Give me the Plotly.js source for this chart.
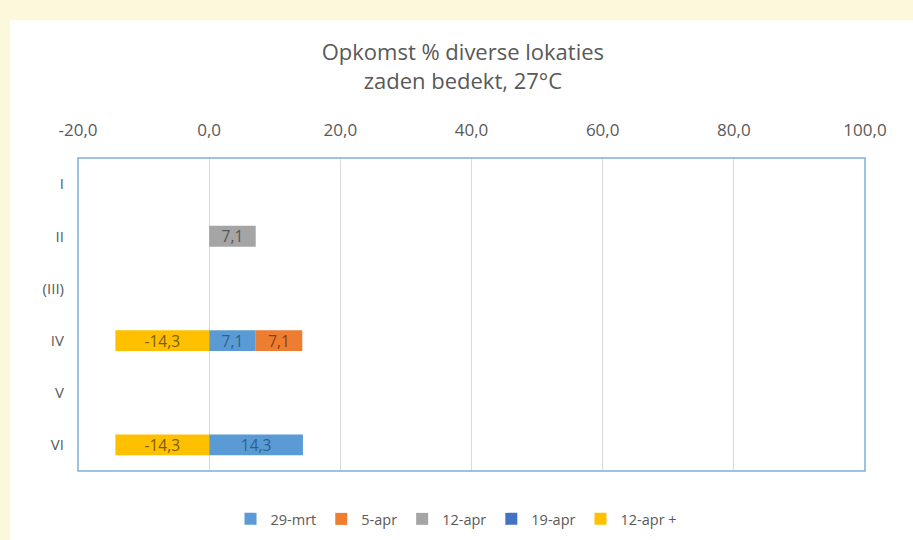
<!DOCTYPE html>
<html><head><meta charset="utf-8">
<script src="https://cdn.plot.ly/plotly-3.0.1.min.js"></script>
<style>html,body{margin:0;padding:0;background:#ffffff}</style>
</head><body><div id="chart" style="width:913px;height:540px"></div>
<script>
const categories = ['I', 'II', '(III)', 'IV', 'V', 'VI'];
const seriesNames = ['29-mrt', '5-apr', '12-apr', '19-apr', '12-apr +'];
const s29mrt = [null, null, null, 7.1, null, 14.3];
const s5apr = [null, null, null, 7.1, null, null];
const s12apr = [null, 7.1, null, null, null, null];
const s19apr = [null, null, null, null, null, null];
const s12aprPlus = [null, null, null, -14.3, null, -14.3];
const xTicks = [-20, 0, 20, 40, 60, 80, 100];
const xTickText = ['-20,0', '0,0', '20,0', '40,0', '60,0', '80,0', '100,0'];

const values = [s29mrt, s5apr, s12apr, s19apr, s12aprPlus];
const colors = ['#5b9bd5', '#ed7d31', '#a5a5a5', '#4472c4', '#ffc000'];
const textColors = ['#2f5f8f', '#8a3f10', '#555555', '#1f3864', '#7a5c00'];
const FONT = 'Open Sans, DejaVu Sans, Arial, sans-serif';
const BAND = '#fbf8dc';

const traces = values.map((v, i) => ({
  type: 'bar', orientation: 'h', name: seriesNames[i],
  y: categories, x: v,
  marker: {color: colors[i]},
  text: v.map(d => d == null ? '' : d.toFixed(1).replace('.', ',')),
  texttemplate: '%{text}', textposition: 'inside', insidetextanchor: 'middle',
  textangle: 0, constraintext: 'none',
  textfont: {family: FONT, size: 15.5, color: textColors[i]},
  hoverinfo: 'skip'
}));

const layout = {
  width: 913, height: 540,
  paper_bgcolor: '#ffffff', plot_bgcolor: '#ffffff',
  separators: ',.',
  barmode: 'relative', bargap: 0.6,
  margin: {l: 78, r: 48, t: 158, b: 69},
  font: {family: FONT, color: '#595959', size: 14},
  title: {text: 'Opkomst % diverse lokaties<br>zaden bedekt, 27°C',
    font: {family: FONT, size: 22, color: '#595959'},
    xref: 'container', x: 0.507, xanchor: 'center',
    yref: 'container', y: 0.888, yanchor: 'middle'},
  xaxis: {side: 'top', range: [-20, 100], tickvals: xTicks, ticktext: xTickText,
    showgrid: true, gridcolor: '#d9d9d9', gridwidth: 1, zeroline: false,
    ticks: 'outside', ticklen: 14, tickcolor: 'rgba(0,0,0,0)',
    tickfont: {family: FONT, size: 17, color: '#595959'},
    showline: false, fixedrange: true, automargin: false},
  yaxis: {autorange: 'reversed', showgrid: false, zeroline: false,
    ticks: 'outside', ticklen: 10, tickcolor: 'rgba(0,0,0,0)',
    tickfont: {family: FONT, size: 15, color: '#595959'},
    showline: false, fixedrange: true, automargin: false},
  legend: {orientation: 'h', xref: 'container', x: 0.5, xanchor: 'center',
    yref: 'container', y: 0.039, yanchor: 'middle',
    bgcolor: 'rgba(0,0,0,0)', itemwidth: 30,
    font: {family: FONT, size: 14.5, color: '#595959'}, traceorder: 'normal'},
  shapes: [
    {type: 'rect', xref: 'paper', yref: 'paper', layer: 'below',
      x0: -0.2, x1: 1.2, y0: 1.44, y1: 1.7,
      fillcolor: BAND, line: {width: 0}},
    {type: 'rect', xref: 'paper', yref: 'paper', layer: 'below',
      x0: -0.2, x1: -0.0864, y0: -0.4, y1: 1.7,
      fillcolor: BAND, line: {width: 0}},
    {type: 'rect', xref: 'paper', yref: 'paper', layer: 'above',
      x0: 0, x1: 1, y0: 0, y1: 1,
      fillcolor: 'rgba(0,0,0,0)', line: {color: '#7fafd9', width: 1.5}}
  ],
  showlegend: true
};

Plotly.newPlot('chart', traces, layout, {displayModeBar: false, staticPlot: true});
</script></body></html>
